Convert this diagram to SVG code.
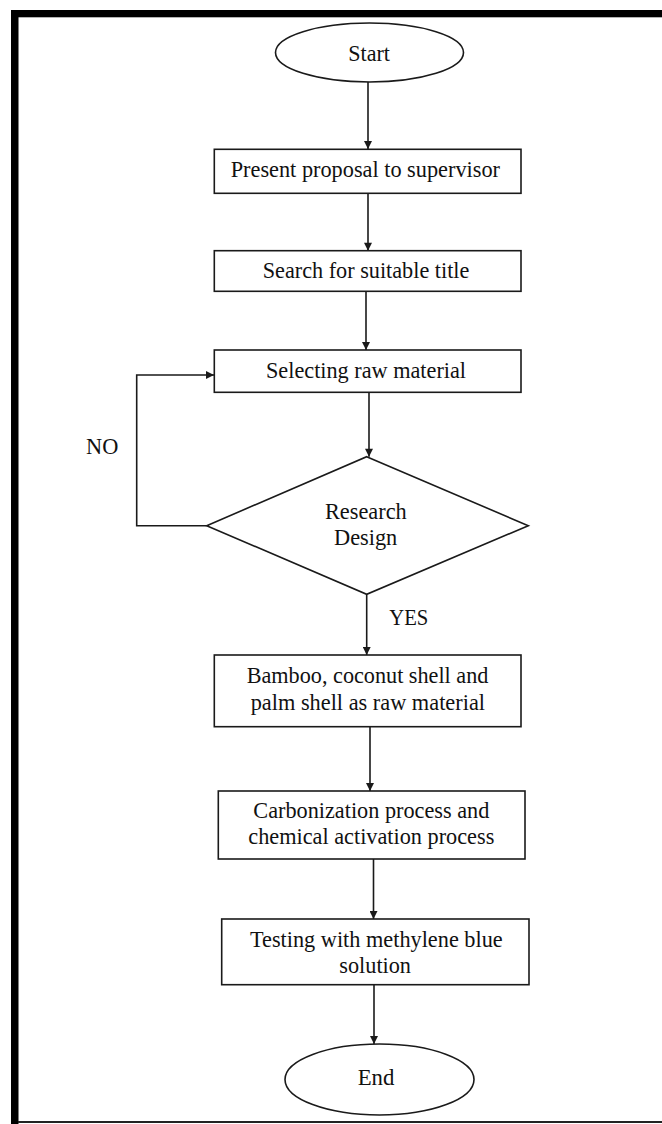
<svg xmlns="http://www.w3.org/2000/svg" width="662" height="1124" viewBox="0 0 662 1124">
<defs>
<style>
.shape{fill:#fff;stroke:#1a1a1a;stroke-width:1.6}
.conn{fill:none;stroke:#1a1a1a;stroke-width:1.6}
.t{font-family:"Liberation Serif","Times New Roman",serif;font-size:24px;fill:#111}
</style>
<marker id="arr" viewBox="0 0 10 10" refX="10" refY="5" markerWidth="9" markerHeight="8" markerUnits="userSpaceOnUse" orient="auto">
<path d="M0,0 L10,5 L0,10 z" fill="#1a1a1a"/>
</marker>
</defs>
<rect width="662" height="1124" fill="#fff"/>
<g id="frame">
<rect x="11" y="10" width="651" height="7.3" fill="#000"/>
<rect x="11" y="10" width="7.5" height="1114" fill="#000"/>
<rect x="18" y="1121" width="644" height="2" fill="#222"/>
</g>
<g id="connectors">
<line class="conn" x1="368" y1="82" x2="368" y2="149" marker-end="url(#arr)"/>
<line class="conn" x1="368" y1="193.3" x2="368" y2="250.7" marker-end="url(#arr)"/>
<line class="conn" x1="366" y1="291.3" x2="366" y2="350" marker-end="url(#arr)"/>
<line class="conn" x1="369" y1="392.3" x2="369" y2="456.7" marker-end="url(#arr)"/>
<polyline class="conn" points="206.7,525.7 136.7,525.7 136.7,375 214,375" marker-end="url(#arr)"/>
<line class="conn" x1="366.7" y1="594.3" x2="366.7" y2="655" marker-end="url(#arr)"/>
<line class="conn" x1="370" y1="726.7" x2="370" y2="791" marker-end="url(#arr)"/>
<line class="conn" x1="373.5" y1="859" x2="373.5" y2="919" marker-end="url(#arr)"/>
<line class="conn" x1="374" y1="984.7" x2="374" y2="1044" marker-end="url(#arr)"/>
<text class="t" x="86" y="454.3" textLength="32.3" lengthAdjust="spacingAndGlyphs">NO</text>
<text class="t" x="389.3" y="625" textLength="39" lengthAdjust="spacingAndGlyphs">YES</text>
</g>
<g id="start">
<ellipse class="shape" cx="369.5" cy="52.5" rx="94" ry="29.5"/>
<text class="t" x="348.3" y="61" textLength="41.7" lengthAdjust="spacingAndGlyphs">Start</text>
</g>
<g id="present">
<rect class="shape" x="214.3" y="149.3" width="306.7" height="44"/>
<text class="t" x="230.7" y="177.3" textLength="269.3" lengthAdjust="spacingAndGlyphs">Present proposal to supervisor</text>
</g>
<g id="search">
<rect class="shape" x="214.3" y="250.7" width="306.7" height="40.6"/>
<text class="t" x="262.7" y="278.3" textLength="206.7" lengthAdjust="spacingAndGlyphs">Search for suitable title</text>
</g>
<g id="selecting">
<rect class="shape" x="214.3" y="350" width="306.7" height="42.3"/>
<text class="t" x="266" y="377.7" textLength="200" lengthAdjust="spacingAndGlyphs">Selecting raw material</text>
</g>
<g id="decision">
<polygon class="shape" points="366.7,456.7 528.3,525.7 366.7,594.3 206.7,525.7"/>
<text class="t" x="325" y="519.3" textLength="81.7" lengthAdjust="spacingAndGlyphs">Research</text>
<text class="t" x="334" y="545" textLength="63.3" lengthAdjust="spacingAndGlyphs">Design</text>
</g>
<g id="bamboo">
<rect class="shape" x="214.3" y="655" width="306.7" height="71.7"/>
<text class="t" x="246.7" y="683.3" textLength="241.7" lengthAdjust="spacingAndGlyphs">Bamboo, coconut shell and</text>
<text class="t" x="250.7" y="710" textLength="234.3" lengthAdjust="spacingAndGlyphs">palm shell as raw material</text>
</g>
<g id="carbonization">
<rect class="shape" x="218.3" y="791" width="306.7" height="68"/>
<text class="t" x="253.3" y="818.3" textLength="236" lengthAdjust="spacingAndGlyphs">Carbonization process and</text>
<text class="t" x="248.3" y="844" textLength="246" lengthAdjust="spacingAndGlyphs">chemical activation process</text>
</g>
<g id="testing">
<rect class="shape" x="221.7" y="919" width="307.3" height="65.7"/>
<text class="t" x="250" y="947.3" textLength="252.7" lengthAdjust="spacingAndGlyphs">Testing with methylene blue</text>
<text class="t" x="339.3" y="972.7" textLength="71.7" lengthAdjust="spacingAndGlyphs">solution</text>
</g>
<g id="end">
<ellipse class="shape" cx="379.5" cy="1079.5" rx="94.5" ry="35.5"/>
<text class="t" x="357.7" y="1085" textLength="36.7" lengthAdjust="spacingAndGlyphs">End</text>
</g>
</svg>
